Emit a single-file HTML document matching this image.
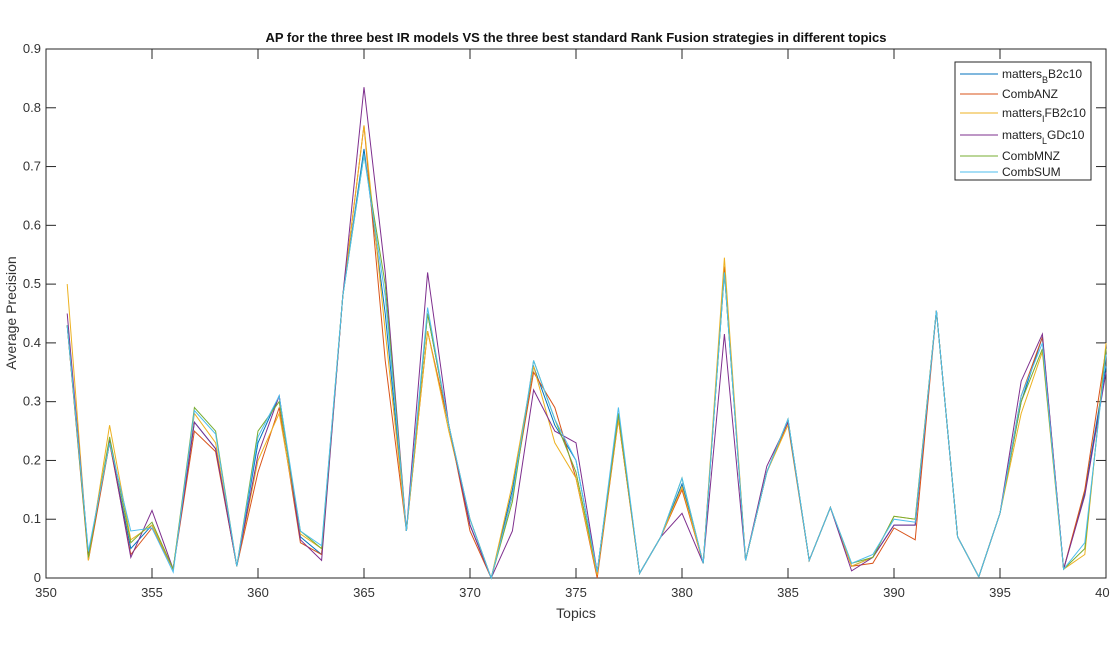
<!DOCTYPE html>
<html><head><meta charset="utf-8"><style>
body{margin:0;background:#fff;font-family:"Liberation Sans",Arial,sans-serif;}
svg text{font-family:"Liberation Sans",Arial,sans-serif;}
</style></head><body>
<svg id="chart" width="1110" height="651" viewBox="0 0 1110 651" xmlns="http://www.w3.org/2000/svg">
<rect width="1110" height="651" fill="#fff"/>
<text x="576" y="42" text-anchor="middle" font-size="13" font-weight="bold" fill="#111">AP for the three best IR models VS the three best standard Rank Fusion strategies in different topics</text>
<g id="axes"></g>
<g id="series"></g>
<g id="legend"></g>
<text x="576" y="618" text-anchor="middle" font-size="14" fill="#333">Topics</text>
<text transform="translate(16,313) rotate(-90)" text-anchor="middle" font-size="14" fill="#333">Average Precision</text>
</svg>
<script>
const topics = Array.from({length:50},(_,i)=>351+i);
const seriesNames = ["matters_B B2c10","CombANZ","matters_I FB2c10","matters_L GDc10","CombMNZ","CombSUM"];
const mattersB = [.43,.04,.23,.05,.09,.015,.265,.22,.02,.23,.31,.07,.04,.48,.73,.45,.08,.45,.26,.09,0,.15,.36,.26,.2,.01,.28,.008,.07,.16,.025,.52,.03,.18,.27,.03,.12,.02,.035,.09,.09,.455,.07,.002,.11,.3,.41,.015,.145,.36];
const combANZ = [.43,.03,.23,.04,.085,.015,.25,.215,.02,.18,.29,.06,.04,.48,.77,.37,.08,.42,.26,.08,0,.14,.35,.29,.17,0,.27,.008,.07,.15,.025,.53,.03,.18,.265,.03,.12,.02,.025,.085,.065,.455,.07,.002,.11,.31,.41,.015,.15,.39];
const mattersI = [.50,.03,.26,.065,.09,.015,.28,.23,.02,.20,.28,.075,.05,.48,.77,.42,.08,.42,.25,.10,0,.16,.36,.23,.17,.005,.27,.008,.07,.155,.025,.545,.03,.18,.26,.03,.12,.02,.035,.105,.10,.455,.07,.002,.11,.28,.385,.015,.04,.40];
const mattersL = [.45,.04,.235,.035,.115,.015,.265,.22,.02,.21,.31,.065,.03,.48,.835,.52,.08,.52,.26,.09,0,.08,.32,.25,.23,.01,.28,.008,.07,.11,.025,.415,.03,.19,.265,.03,.12,.012,.035,.09,.09,.455,.07,.002,.11,.335,.415,.015,.14,.35];
const combMNZ = [.43,.035,.24,.06,.095,.015,.29,.25,.02,.25,.30,.08,.05,.48,.72,.50,.08,.45,.26,.10,0,.13,.37,.27,.18,.01,.28,.008,.07,.17,.025,.52,.03,.18,.27,.03,.12,.025,.035,.105,.10,.455,.07,.002,.11,.30,.39,.015,.05,.39];
const combSUM = [.43,.045,.23,.08,.085,.01,.285,.245,.02,.24,.31,.08,.055,.48,.72,.48,.08,.46,.26,.10,0,.14,.37,.27,.20,.01,.29,.008,.07,.17,.025,.52,.03,.18,.27,.03,.12,.025,.04,.10,.095,.455,.07,.002,.11,.31,.40,.015,.06,.38];
const xTicks = [350,355,360,365,370,375,380,385,390,395,400];
const yTicks = [0,0.1,0.2,0.3,0.4,0.5,0.6,0.7,0.8,0.9];
const colors = ["#0072BD","#D95319","#EDB120","#7E2F8E","#77AC30","#4DBEEE"];
const allSeries = [mattersB,combANZ,mattersI,mattersL,combMNZ,combSUM];
const NS="http://www.w3.org/2000/svg";
const L=46,R=1106,T=49,B=578;
const xs=v=>L+(v-350)/(400-350)*(R-L);
const ys=v=>B-(v/0.9)*(B-T);
function mk(tag,attrs,parent){const e=document.createElementNS(NS,tag);for(const k in attrs)e.setAttribute(k,attrs[k]);parent.appendChild(e);return e;}
const ax=document.getElementById('axes');
const frame=mk('rect',{x:L,y:T,width:R-L,height:B-T,fill:'none',stroke:'#262626','stroke-width':1},ax);


xTicks.forEach(t=>{
  const x=xs(t);
  mk('line',{x1:x,x2:x,y1:B,y2:B-10,stroke:'#262626'},ax);
  mk('line',{x1:x,x2:x,y1:T,y2:T+10,stroke:'#262626'},ax);
  const tx=mk('text',{x:x,y:B+19,'text-anchor':'middle','font-size':13,fill:'#333'},ax);
  tx.textContent=t;
  
  
});
yTicks.forEach(t=>{
  const y=ys(t);
  mk('line',{x1:L,x2:L+10,y1:y,y2:y,stroke:'#262626'},ax);
  mk('line',{x1:R,x2:R-10,y1:y,y2:y,stroke:'#262626'},ax);
  const tx=mk('text',{x:L-5,y:y+4,'text-anchor':'end','font-size':13,fill:'#333'},ax);
  tx.textContent=(t===0?'0':t.toFixed(1));
  
  
});
const sg=document.getElementById('series');
allSeries.forEach((s,i)=>{
  const pts=s.map((v,j)=>xs(topics[j]).toFixed(1)+','+ys(v).toFixed(1)).join(' ');
  const pl=mk('polyline',{points:pts,fill:'none',stroke:colors[i],'stroke-width':1},sg);
  
  
});
const lg=document.getElementById('legend');
mk('rect',{x:955,y:62,width:136,height:118,fill:'#fff',stroke:'#262626'},lg);
const labels=[["matters","B","B2c10"],["CombANZ"],["matters","I","FB2c10"],["matters","L","GDc10"],["CombMNZ"],["CombSUM"]];
const ly=[74,94,113,135,156,172];
labels.forEach((lab,i)=>{
  const y=ly[i];
  const ln=mk('line',{x1:960,x2:998,y1:y,y2:y,stroke:colors[i]},lg);
  
  
  const tx=mk('text',{x:1002,y:y+4,'font-size':12,fill:'#222'},lg);
  
  
  if(lab.length===1){tx.textContent=lab[0];}
  else{
    const a=document.createElementNS(NS,'tspan');a.textContent=lab[0];tx.appendChild(a);
    const b=document.createElementNS(NS,'tspan');b.setAttribute('dy','5');b.setAttribute('font-size','9');b.textContent=lab[1];tx.appendChild(b);
    const c=document.createElementNS(NS,'tspan');c.setAttribute('dy','-5');c.textContent=lab[2];tx.appendChild(c);
  }
});
</script>
</body></html>
